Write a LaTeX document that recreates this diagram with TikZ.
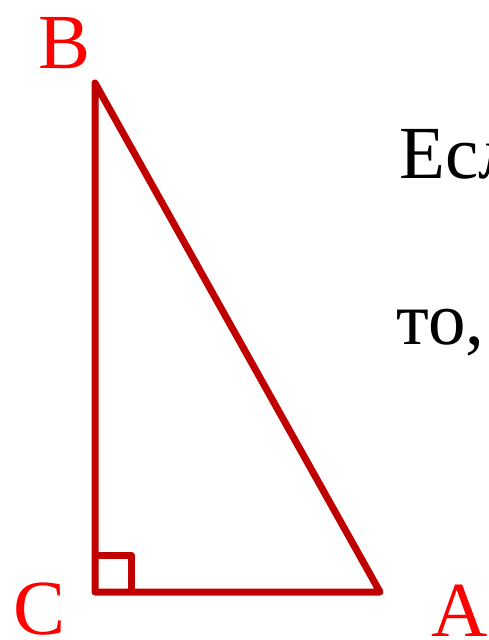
\documentclass[tikz,border=0pt]{standalone}
\usepackage{fontspec}
\setmainfont{Liberation Serif}
\usetikzlibrary{positioning}
\definecolor{edgered}{RGB}{192,0,0}
\tikzset{vlabel/.style={text=red,font=\fontsize{78}{80}\selectfont,inner sep=0pt,anchor=base},
  side/.style={draw=edgered,line width=7pt,line join=round},
  textline/.style={font=\fontsize{75}{77}\selectfont,inner sep=0pt,anchor=base west}}
\begin{document}
\begin{tikzpicture}[x=1pt,y=-1pt]
\path[use as bounding box,clip] (0,0) rectangle (489,640);
\coordinate (C) at (95,592);
\coordinate (B) at (95,83);
\coordinate (A) at (380,592);
\draw[side] (A) -- (C) -- (B) -- cycle;
\draw[side] (95,555) -- (131,555) -- (131,592);
\node[vlabel] (lb) at (65,68) {B};
\node[vlabel] (lc) at (40,634) {C};
\node[vlabel] (la) at (460,636) {A};
\node[textline] (t1) at (399,178) {Есл};
\node[textline] (t2) at (396,344) {то,};
\end{tikzpicture}
\end{document}
